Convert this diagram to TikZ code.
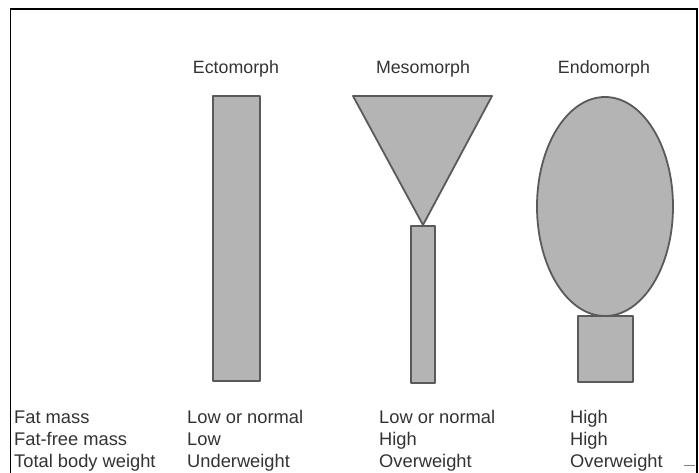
\documentclass[tikz,border=0pt]{standalone}
\usepackage{fontspec}
\setmainfont{Liberation Sans}
\definecolor{ink}{HTML}{333333}
\definecolor{shapefill}{HTML}{B4B4B4}
\definecolor{shapeline}{HTML}{5A5A5A}
\begin{document}
\begin{tikzpicture}[x=1pt,y=-1pt,
  lbl/.style={font=\fontsize{18.3}{21}\selectfont, text=ink, inner sep=0pt, anchor=base west},
  head/.style={font=\fontsize{17.8}{20}\selectfont, text=ink, inner sep=0pt, anchor=base},
  body/.style={fill=shapefill, draw=shapeline, line width=1.8pt, line join=round},
  frame/.style={draw=black, line width=1.2pt}]
\useasboundingbox (0,0) rectangle (699,473);
\fill[white] (0,0) rectangle (699,473);
% frame
\draw[frame] (10.5,473) -- (10.5,9) -- (697,9) -- (697,473);
\draw[draw=gray, line width=1pt] (684,465) -- (695,465);
% headers
\node[head] (hEcto) at (236,74) {Ectomorph};
\node[head] (hMeso) at (423,74) {Mesomorph};
\node[head] (hEndo) at (604,74) {Endomorph};
% ectomorph
\draw[body] (213,96) rectangle (260,381);
% mesomorph
\draw[body] (411,226) rectangle (435,383);
\draw[body] (353,96) -- (492,96) -- (423,225) -- cycle;
% endomorph
\draw[body] (578,316) rectangle (633,382);
\draw[body] (605,206.5) ellipse [x radius=68, y radius=109.5];
% row labels
\node[lbl] (r1) at (14,423) {Fat mass};
\node[lbl] (r2) at (14,445) {Fat-free mass};
\node[lbl] (r3) at (14,467) {Total body weight};
\node[lbl] (e1) at (187,423) {Low or normal};
\node[lbl] (e2) at (187,445) {Low};
\node[lbl] (e3) at (187,467) {Underweight};
\node[lbl] (m1) at (379,423) {Low or normal};
\node[lbl] (m2) at (379,445) {High};
\node[lbl] (m3) at (379,467) {Overweight};
\node[lbl] (d1) at (570,423) {High};
\node[lbl] (d2) at (570,445) {High};
\node[lbl] (d3) at (570,467) {Overweight};
\end{tikzpicture}
\end{document}
